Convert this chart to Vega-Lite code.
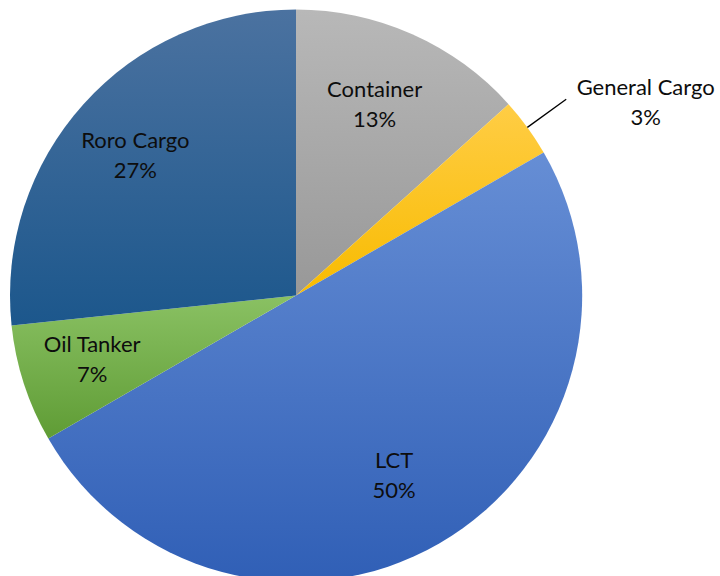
{
  "$schema": "https://vega.github.io/schema/vega-lite/v6.json",
  "width": 592,
  "height": 591,
  "padding": 0,
  "background": "white",
  "config": {"view": {"stroke": null}},
  "data": {
    "values": [
      {"type": "Container", "count": 4},
      {"type": "General Cargo", "count": 1},
      {"type": "LCT", "count": 15},
      {"type": "Oil Tanker", "count": 2},
      {"type": "Roro Cargo", "count": 8}
    ]
  },
  "transform": [
    {"joinaggregate": [{"op": "sum", "field": "count", "as": "total"}]},
    {"window": [{"op": "sum", "field": "count", "as": "cum"}], "sort": [{"field": "type", "order": "ascending"}], "frame": [null, 0]},
    {"calculate": "datum.cum - datum.count", "as": "start"},
    {"calculate": "datum.cum - datum.count / 2", "as": "mid"},
    {"calculate": "datum.type + '\\n' + format(datum.count / datum.total, '.0%')", "as": "label"}
  ],
  "layer": [
    {
      "mark": {"type": "arc", "outerRadius": 286},
      "encoding": {
        "theta": {"field": "start", "type": "quantitative", "stack": null, "scale": {"domain": [0, 30]}},
        "theta2": {"field": "cum"},
        "fill": {
          "condition": [
            {"test": "datum.type === 'Container'", "value": {"gradient": "linear", "x1": 0, "y1": 0, "x2": 0, "y2": 1, "stops": [{"offset": 0, "color": "#b8b8b8"}, {"offset": 1, "color": "#989898"}]}},
            {"test": "datum.type === 'General Cargo'", "value": {"gradient": "linear", "x1": 0, "y1": 0, "x2": 0, "y2": 1, "stops": [{"offset": 0, "color": "#ffcd45"}, {"offset": 1, "color": "#f8bb00"}]}},
            {"test": "datum.type === 'LCT'", "value": {"gradient": "linear", "x1": 0, "y1": 0, "x2": 0, "y2": 1, "stops": [{"offset": 0, "color": "#668ed5"}, {"offset": 1, "color": "#305fb6"}]}},
            {"test": "datum.type === 'Oil Tanker'", "value": {"gradient": "linear", "x1": 0, "y1": 0, "x2": 0, "y2": 1, "stops": [{"offset": 0, "color": "#8ac163"}, {"offset": 1, "color": "#5f9c35"}]}}
          ],
          "value": {"gradient": "linear", "x1": 0, "y1": 0, "x2": 0, "y2": 1, "stops": [{"offset": 0, "color": "#4b72a0"}, {"offset": 1, "color": "#1c578c"}]}
        }
      }
    },
    {
      "transform": [{"filter": "datum.type !== 'General Cargo'"}],
      "mark": {"type": "text", "radius": 208, "dx": -6, "dy": -15, "font": "Lato", "fontSize": 22, "lineBreak": "\n", "lineHeight": 30, "align": "center", "baseline": "middle", "color": "#0d0d0d"},
      "encoding": {
        "theta": {"field": "mid", "type": "quantitative", "stack": null},
        "text": {"field": "label"}
      }
    },
    {
      "transform": [{"filter": "datum.type === 'General Cargo'"}],
      "mark": {"type": "text", "radius": 300, "dx": 107, "dy": -31, "font": "Lato", "fontSize": 22, "lineBreak": "\n", "lineHeight": 30, "align": "center", "baseline": "middle", "color": "#0d0d0d"},
      "encoding": {
        "theta": {"field": "mid", "type": "quantitative", "stack": null},
        "text": {"field": "label"}
      }
    },
    {
      "transform": [{"filter": "datum.type === 'General Cargo'"}],
      "mark": {"type": "arc", "innerRadius": 286, "outerRadius": 334, "stroke": "#000000", "strokeWidth": 1.3, "fill": null},
      "encoding": {
        "theta": {"field": "mid", "type": "quantitative", "stack": null},
        "theta2": {"field": "mid"}
      }
    }
  ]
}
